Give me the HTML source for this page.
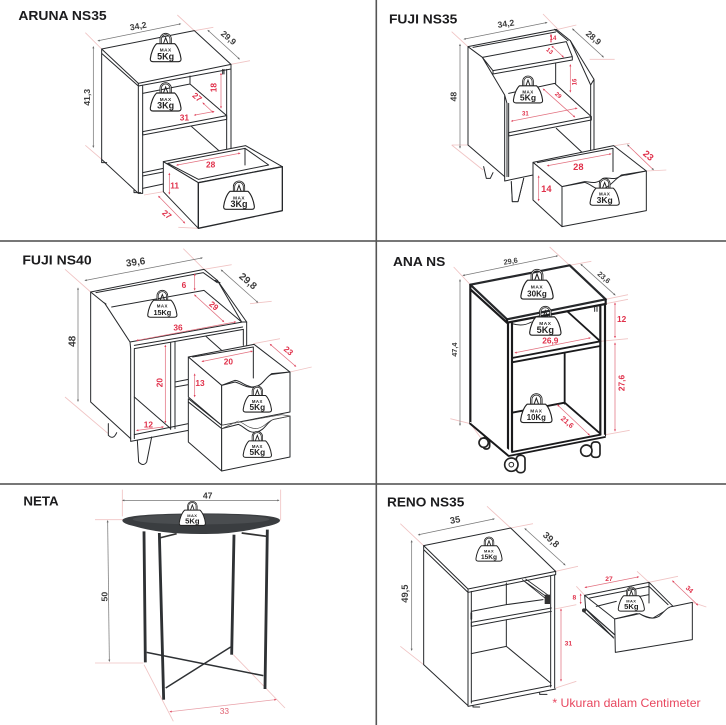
<!DOCTYPE html>
<html><head><meta charset="utf-8"><style>
html,body{margin:0;padding:0;background:#fff;width:726px;height:725px;overflow:hidden}
svg{display:block}
text{font-family:"Liberation Sans",sans-serif}
.t{font-size:38px;font-weight:bold;fill:#1c1c1e}
.k{fill:none;stroke:#26282b;stroke-width:3;stroke-linejoin:round;stroke-linecap:round}
.h{fill:none;stroke:#1a1a1c;stroke-width:6.5;stroke-linejoin:miter;stroke-linecap:round}
.f{fill:#fff;stroke:#26282b;stroke-width:3;stroke-linejoin:round}
.d{fill:none;stroke:#777;stroke-width:2.2;marker-start:url(#ag);marker-end:url(#ag)}
.r{fill:none;stroke:#e2707f;stroke-width:2.2;marker-start:url(#ar);marker-end:url(#ar)}
.e{fill:none;stroke:#f0c4c4;stroke-width:2.6}
.g{font-size:26px;fill:#3c3c3c;text-anchor:middle;font-weight:bold}
.q{font-size:25px;fill:#e0304a;text-anchor:middle;font-weight:bold}
.wm{font-size:14px;font-weight:bold;text-anchor:middle;fill:#222;letter-spacing:1.5px}
.wk{font-size:27px;font-weight:bold;text-anchor:middle;fill:#222}
.ws{font-size:23px;font-weight:bold;text-anchor:middle;fill:#222}
</style></head><body>
<svg width="726" height="725" viewBox="0 0 726 725" xmlns="http://www.w3.org/2000/svg">
<defs>
<marker id="ag" markerWidth="8" markerHeight="8" refX="4" refY="4" orient="auto-start-reverse" markerUnits="userSpaceOnUse"><path d="M8 4 L1 1 L1 7Z" fill="#666"/></marker>
<marker id="ar" markerWidth="8" markerHeight="8" refX="4" refY="4" orient="auto-start-reverse" markerUnits="userSpaceOnUse"><path d="M8 4 L1 1 L1 7Z" fill="#e0405a"/></marker>
<g id="wt">
<path d="M-15 34 V17 A15 15 0 0 1 15 17 V34" fill="none" stroke="#222" stroke-width="6.5"/>
<path d="M-15 34 V17 A15 15 0 0 1 15 17 V34" fill="none" stroke="#fff" stroke-width="1.6"/>
<path d="M-7 32 L0 13 L7 32" fill="none" stroke="#222" stroke-width="3"/>
<path d="M-27 31 L27 31 C37 40 44 60 46 76 Q47 85 38 85 L-38 85 Q-47 85 -46 76 C-44 60 -37 40 -27 31Z" fill="#fff" stroke="#222" stroke-width="3.4" stroke-linejoin="round"/>
</g>
</defs>
<rect width="726" height="725" fill="#fff"/>
<rect x="0" y="240" width="726" height="2" fill="#777"/>
<rect x="0" y="483" width="726" height="2" fill="#777"/>
<rect x="375.5" y="0" width="1.6" height="725" fill="#555"/>

<!-- ARUNA NS35 -->
<g transform="scale(.33333)">
<text class="t" x="55" y="60" textLength="265" lengthAdjust="spacingAndGlyphs">ARUNA NS35</text>
<path class="e" d="M256 98 L305 147 M532 45 L583 92 M583 92 L640 82 M693 193 L750 182 M256 436 L305 478 M432 585 L490 575 M535 682 L595 685"/>
<path class="d" d="M296 122 L540 72"/><path class="d" d="M625 92 L717 176"/><path class="d" d="M280 142 V440"/>
<text class="g" transform="translate(416,87) rotate(-10)">34,2</text>
<text class="g" transform="translate(680,120) rotate(40)">29,9</text>
<text class="g" transform="translate(270,292) rotate(-90)">41,3</text>
<path class="f" d="M305 147 L583 92 L693 193 L415 250Z"/>
<path class="k" d="M305 147 V160 L415 258 L693 207 V193 M415 250 V258 M305 160 V478 L415 580 V258 M428 258 V580 L415 580 M680 208 V450 M693 207 V450"/>
<path class="k" d="M305 478 L305 488 L320 488 M402 570 V578 H422"/>
<path class="k" d="M428 280 L570 252 L680 347 M570 228 V252 M428 395 L680 347 V358 L428 405Z M575 380 L660 455 M428 518 L490 505 M428 528 L490 516 M428 565 L490 552"/>
<path class="k" d="M668 208 V222 M672 208 V222"/>
<path class="f" d="M490 485 L737 437 L847 500 L595 548Z"/>
<path class="f" d="M503 490 L735 445 L806 495 L595 538Z"/>
<path class="k" d="M735 445 V495"/>
<path class="f" d="M490 485 L595 548 V685 L490 575Z"/>
<path class="f" d="M595 548 L847 500 V632 L595 685Z" style="stroke-width:4"/>
<path class="r" d="M663 222 V322"/><text class="q" transform="translate(649,263) rotate(-90)">18</text>
<path class="r" d="M610 310 L638 336"/><text class="q" transform="translate(586,298) rotate(40)">27</text>
<path class="r" d="M585 345 L640 335"/><text class="q" x="553" y="362">31</text>
<path class="r" d="M532 495 L718 460"/><text class="q" x="632" y="503">28</text>
<path class="r" d="M508 522 V580"/><text class="q" x="524" y="566">11</text>
<path class="r" d="M477 590 L553 668"/><text class="q" transform="translate(495,650) rotate(40)">27</text>
<g transform="translate(497,100)"><use href="#wt"/><text class="wm" y="55">MAX</text><text class="wk" y="78">5Kg</text></g>
<g transform="translate(497,248)"><use href="#wt"/><text class="wm" y="55">MAX</text><text class="wk" y="78">3Kg</text></g>
<g transform="translate(717,543)"><use href="#wt"/><text class="wm" y="55">MAX</text><text class="wk" y="78">3Kg</text></g>
</g>

<!-- FUJI NS35 -->
<g transform="translate(363,0) scale(.33333)">
<text class="t" x="78" y="70" textLength="205" lengthAdjust="spacingAndGlyphs">FUJI NS35</text>
<path class="e" d="M266 95 L315 140 M540 42 L585 88 M585 88 L640 75 M680 178 L755 178 M266 435 L315 435 M266 435 L360 510 M800 430 L755 437 M850 513 L910 510"/>
<path class="d" d="M305 117 L550 68"/><path class="d" d="M630 88 L720 170"/><path class="d" d="M291 135 V442"/><path class="d" d="M795 436 L870 508" style="stroke:#e2707f"/>
<text class="g" transform="translate(430,80) rotate(-8)">34,2</text>
<text class="g" transform="translate(686,120) rotate(40)">28,9</text>
<text class="g" transform="translate(280,290) rotate(-90)">48</text>
<path class="k" d="M362 500 L370 535 H382 L390 518 M445 545 L448 605 H465 L482 535"/>
<path d="M445 545 L448 605 H465 L482 535Z" fill="#fff"/>
<path class="k" d="M445 545 L448 605 H465 L482 535"/>
<path class="k" d="M315 140 L580 88 L622 122 L693 238 V450 M315 140 V435 L425 530 V543 L510 525"/>
<path class="k" d="M315 140 L358 172 L425 285 L432 310 V530 M425 285 V530 M437 310 V530 M330 142 L578 96 M358 172 L610 125 L628 170 M390 212 L628 170 V180 L390 222 Z M358 172 L390 212 M683 255 V450 M693 238 L683 255 L622 122 M575 88 L615 122"/>
<path class="k" d="M437 280 L575 250 L685 350 M578 190 V250 M437 398 L685 350 V360 L437 408Z M580 385 L655 455"/>
<path class="f" d="M510 487 L752 437 L850 513 L775 525 C755 545 740 530 720 535 C700 555 680 545 665 545 L597 560Z"/>
<path class="k" d="M523 488 L750 445 V515"/>
<path class="f" d="M510 487 L597 560 V680 L510 600Z"/>
<path class="f" d="M597 560 L665 547 C690 555 700 575 725 565 C755 550 760 525 790 525 L850 513 V632 L597 680Z"/>
<path class="r" d="M564 105 V125"/><text class="q" x="570" y="120" style="font-size:18px">14</text>
<path class="r" d="M568 140 L600 170"/><text class="q" transform="translate(556,157) rotate(40)" style="font-size:18px">13</text>
<path class="r" d="M622 196 V274"/><text class="q" transform="translate(640,246) rotate(-90)" style="font-size:18px">16</text>
<path class="r" d="M542 268 L634 350"/><text class="q" transform="translate(582,290) rotate(40)" style="font-size:18px">29</text>
<path class="r" d="M447 363 L640 325"/><text class="q" x="487" y="346" style="font-size:18px">31</text>
<path class="r" d="M555 497 L742 462"/><text class="q" x="646" y="510" style="font-size:28px">28</text>
<path class="r" d="M527 530 V600"/><text class="q" x="550" y="576" style="font-size:28px">14</text>
<text class="q" transform="translate(850,474) rotate(40)" style="font-size:28px">23</text>
<g transform="translate(495,228) scale(.95)"><use href="#wt"/><text class="wm" y="55">MAX</text><text class="wk" y="78">5Kg</text></g>
<g transform="translate(725,535) scale(.95)"><use href="#wt"/><text class="wm" y="55">MAX</text><text class="wk" y="78">3Kg</text></g>
</g>

<!-- FUJI NS40 -->
<g transform="translate(0,242) scale(.33333)">
<text class="t" x="67" y="67" textLength="208" lengthAdjust="spacingAndGlyphs">FUJI NS40</text>
<path class="e" d="M195 82 L272 150 M550 20 L612 82 M612 82 L695 68 M750 185 L815 178 M195 465 L325 575 M760 305 L840 290 M870 390 L935 375"/>
<path class="d" d="M257 115 L605 48"/><path class="d" d="M665 85 L772 180"/><path class="d" d="M234 140 V476"/>
<text class="g" transform="translate(408,70) rotate(-8)" style="font-size:30px">39,6</text>
<text class="g" transform="translate(738,125) rotate(40)" style="font-size:30px">29,8</text>
<text class="g" transform="translate(226,298) rotate(-90)" style="font-size:30px">48</text>
<path class="k" d="M325 545 L325 580 Q340 595 350 572 M412 595 L416 660 Q430 675 440 660 L455 585"/>
<path class="k" d="M272 150 L612 82 L652 115 L740 240 V310 M272 150 V480 L392 590 V598 L565 565"/>
<path class="k" d="M272 150 L315 185 L390 300 L392 320 V590 M403 320 V590 M288 152 L610 92 L652 122 M335 195 L612 145 L725 240 M390 300 L728 240 M403 320 L730 262 M403 310 L728 255 M740 240 L725 240 L652 115 M645 115 L660 122 M312 182 L318 186"/>
<path class="k" d="M512 302 V562 M525 300 V560 M525 420 L565 412 M525 435 L565 428 M403 465 L512 560 M403 578 L565 545 M618 283 L665 325 M730 262 V310"/>
<path class="f" d="M565 345 L762 307 L870 390 L815 395 C790 415 785 435 755 435 C730 430 720 415 705 415 L665 430Z"/>
<path class="k" d="M578 345 L760 315 V408"/>
<path class="f" d="M565 345 L665 430 V550 L565 465Z"/>
<path class="f" d="M665 430 L705 420 C725 425 740 440 765 435 C790 430 800 400 815 397 L870 390 V510 L665 550Z"/>
<path class="f" d="M565 480 L665 560 L665 550 L565 470Z"/>
<path class="f" d="M565 480 L665 560 V687 L565 600Z"/>
<path class="f" d="M665 560 L715 547 C735 555 745 575 770 570 C795 565 800 540 820 532 L870 522 V645 L665 687Z"/>
<path class="f" d="M665 550 L845 518 L870 522 L820 532 C800 540 795 555 770 560 C745 560 735 545 715 537 L665 560Z" style="stroke:#444;stroke-width:2"/>
<path class="r" d="M584 98 V142"/><text class="q" x="552" y="138">6</text>
<path class="r" d="M585 160 L670 238"/><text class="q" transform="translate(636,198) rotate(40)">29</text>
<path class="r" d="M412 295 L705 240"/><text class="q" x="534" y="265">36</text>
<path class="r" d="M496 312 V540"/><text class="q" transform="translate(488,422) rotate(-90)">20</text>
<path class="r" d="M412 565 L488 555"/><text class="q" x="445" y="556">12</text>
<path class="r" d="M608 358 L755 328"/><text class="q" x="685" y="368">20</text>
<path class="r" d="M584 398 V462"/><text class="q" x="600" y="432">13</text>
<path class="r" d="M812 308 L886 372"/><text class="q" transform="translate(860,333) rotate(40)">23</text>
<g transform="translate(487,145) scale(.95)"><use href="#wt"/><text class="wm" y="55">MAX</text><text class="ws" y="78">15Kg</text></g>
<g transform="translate(772,432) scale(.92)"><use href="#wt"/><text class="wm" y="55">MAX</text><text class="wk" y="78">5Kg</text></g>
<g transform="translate(772,568) scale(.92)"><use href="#wt"/><text class="wm" y="55">MAX</text><text class="wk" y="78">5Kg</text></g>
</g>

<!-- ANA NS -->
<g transform="translate(363,242) scale(.33333)">
<text class="t" x="90" y="72" textLength="157" lengthAdjust="spacingAndGlyphs">ANA NS</text>
<path class="e" d="M272 75 L322 128 M560 15 L620 70 M620 70 L685 58 M728 172 L795 158 M728 185 L795 172 M712 298 L795 290 M728 578 L800 565 M262 530 L322 545 L370 610"/>
<path class="d" d="M302 100 L582 42"/><path class="d" d="M655 68 L755 158"/><path class="d" d="M291 115 V548"/>
<text class="g" transform="translate(444,65) rotate(-9)" style="font-size:22px">29,6</text>
<text class="g" transform="translate(718,112) rotate(40)" style="font-size:22px">23,6</text>
<text class="g" transform="translate(282,323) rotate(-90)" style="font-size:22px">47,4</text>
<rect x="360" y="585" width="20" height="36" rx="9" fill="#fff" stroke="#222" stroke-width="5"/>
<rect x="460" y="640" width="26" height="52" rx="11" fill="#fff" stroke="#222" stroke-width="5"/>
<rect x="685" y="600" width="26" height="46" rx="10" fill="#fff" stroke="#222" stroke-width="5"/>
<circle cx="362" cy="602" r="14" fill="#fff" stroke="#222" stroke-width="5"/><circle cx="445" cy="668" r="20" fill="#fff" stroke="#222" stroke-width="5"/><circle cx="670" cy="626" r="17" fill="#fff" stroke="#222" stroke-width="5"/>
<circle cx="445" cy="668" r="7" fill="none" stroke="#222" stroke-width="3"/>
<path class="f" d="M322 128 L620 70 L728 172 L432 232Z" style="stroke-width:6.5"/>
<path class="h" d="M322 128 V545 L435 640 M322 142 L432 242 L728 186 V172 M432 232 V242 M435 242 V640 M447 242 V632 M712 190 V580 M726 186 V580"/>
<path d="M323 540 H321 V545 L435 640 L447 640 L726 585 V578 L447 630 Z" fill="#fff"/>
<path class="h" d="M322 545 L435 640 M447 348 L712 298 M447 361 L712 312 M447 348 V361 M615 210 L712 298 M605 335 V485 M447 512 L605 482 L712 575 M447 630 L712 578 M437 642 L726 585" style="stroke-width:5.5"/>
<path class="k" d="M447 245 Q480 255 505 240 M695 195 V208 M702 195 V208"/>
<path class="r" d="M756 185 V285"/><text class="q" x="776" y="240">12</text>
<path class="r" d="M756 305 V565"/><text class="q" transform="translate(784,423) rotate(-90)">27,6</text>
<path class="r" d="M458 332 L680 288"/><text class="q" x="562" y="305">26,9</text>
<path class="r" d="M585 490 L678 578"/><text class="q" transform="translate(608,546) rotate(40)" style="font-size:22px">21,6</text>
<g transform="translate(522,82) scale(1.05)"><use href="#wt"/><text class="wm" y="55">MAX</text><text class="ws" y="77">30Kg</text></g>
<g transform="translate(547,193) scale(1.02)"><use href="#wt"/><text class="wm" y="55">MAX</text><text class="wk" y="78">5Kg</text></g>
<g transform="translate(520,455) scale(1.02)"><use href="#wt"/><text class="wm" y="55">MAX</text><text class="ws" y="78">10Kg</text></g>
</g>

<!-- NETA -->
<g transform="translate(0,483) scale(.33333)">
<text class="t" x="70" y="67" textLength="106" lengthAdjust="spacingAndGlyphs">NETA</text>
<path class="e" d="M367 20 V100 M842 20 V112 M285 110 H370 M285 540 H430 M432 545 L520 715 M700 515 L855 675"/>
<path class="d" d="M370 52 H835"/><path class="d" d="M323 115 L328 533"/><path class="r" d="M512 686 L826 650" style="stroke:#e8a0a8"/>
<text class="g" x="623" y="47">47</text>
<text class="g" transform="translate(322,341) rotate(-90)">50</text>
<text class="q" x="673" y="693" style="fill:#e06070;font-weight:normal">33</text>
<path d="M478 165 L530 152 M725 150 L800 160" stroke="#333" stroke-width="5" fill="none"/>
<path d="M432 145 L436 538 M478 150 L491 650 M702 155 L695 515 M802 140 L795 618" stroke="#2e3134" stroke-width="8.5" fill="none"/>
<path d="M440 508 L790 578 M692 492 L497 615" stroke="#2e3134" stroke-width="4.5" fill="none"/>
<path d="M367 112 Q367 92 603 91 Q840 92 840 112 Q840 122 800 130 Q700 155 603 153 Q480 153 405 130 Q367 122 367 112Z" fill="#3a3d40"/>
<ellipse cx="603" cy="109" rx="205" ry="15" fill="#4a4d50"/>
<g transform="translate(577,55) scale(.85)"><use href="#wt"/><text class="wm" y="55">MAX</text><text class="wk" y="78">5Kg</text></g>
</g>

<!-- RENO NS35 -->
<g transform="translate(363,483) scale(.33333)">
<text class="t" x="72" y="71" textLength="232" lengthAdjust="spacingAndGlyphs">RENO NS35</text>
<path class="e" d="M112 122 L182 188 M372 70 L443 135 M443 135 L510 122 M578 265 L645 250 M112 490 L182 545 M575 378 L640 365 M578 615 L640 595 M822 265 L858 298 M858 298 L945 280 M988 358 L1030 372 M640 310 L665 337"/>
<path class="d" d="M168 155 L392 108"/><path class="d" d="M487 138 L605 245"/><path class="d" d="M146 175 V500"/>
<text class="g" transform="translate(278,120) rotate(-10)" style="font-size:28px">35</text>
<text class="g" transform="translate(558,177) rotate(42)" style="font-size:28px">39,8</text>
<text class="g" transform="translate(135,332) rotate(-90)" style="font-size:28px">49,5</text>
<path class="f" d="M182 188 L443 135 L578 265 L315 318Z"/>
<path class="k" d="M182 188 V545 L315 668 V328 L182 200 M315 318 V328 L578 275 V265 M325 325 V660 M563 278 V612 M575 276 V615"/>
<path class="k" d="M325 385 L430 365 L540 350 M430 300 V365 M325 418 L565 375 M325 430 L565 385 M325 418 V430 M430 410 V490 M325 512 L430 490 L563 600 M325 655 L565 608 M315 670 L578 618 M330 668 V672 H350 M530 630 V634 H552"/>
<path class="k" d="M478 290 L552 350 M488 288 L560 340 M482 293 L556 345" style="stroke-width:2.5"/>
<rect x="545" y="335" width="16" height="28" fill="#333"/>
<path class="k" d="M325 390 V408" style="stroke-width:5"/>
<path class="f" d="M665 337 L858 298 L930 370 L870 405 C850 405 835 392 820 392 L755 408Z"/>
<path class="k" d="M680 345 L858 310 L915 365 M858 298 V360 M700 370 L760 355 M790 348 L858 335"/>
<path class="f" d="M755 408 L830 392 C850 405 870 410 888 400 C905 385 915 370 930 370 L988 358 V470 L757 508Z"/>
<path class="k" d="M665 337 L668 378 L752 465"/>
<path class="k" d="M662 385 L750 462 M668 378 L755 455" style="stroke-width:3.5"/>
<circle cx="663" cy="382" r="6" fill="#333"/>
<path class="r" d="M594 380 V592"/><text class="q" x="616" y="488" style="font-size:20px">31</text>
<path class="r" d="M653 335 V360"/><text class="q" x="634" y="349" style="font-size:20px">8</text>
<path class="r" d="M668 313 L825 282"/><text class="q" x="738" y="294" style="font-size:20px">27</text>
<path class="r" d="M930 295 L1003 365"/><text class="q" transform="translate(975,324) rotate(42)" style="font-size:20px">34</text>
<g transform="translate(378,162) scale(.85)"><use href="#wt"/><text class="wm" y="55">MAX</text><text class="ws" y="78">15Kg</text></g>
<g transform="translate(805,312) scale(.85)"><use href="#wt"/><text class="wm" y="55">MAX</text><text class="wk" y="78">5Kg</text></g>
<text x="568" y="672" style="font-size:35px;fill:#e8475f" textLength="445" lengthAdjust="spacingAndGlyphs">* Ukuran dalam Centimeter</text>
</g>
</svg>
</body></html>
